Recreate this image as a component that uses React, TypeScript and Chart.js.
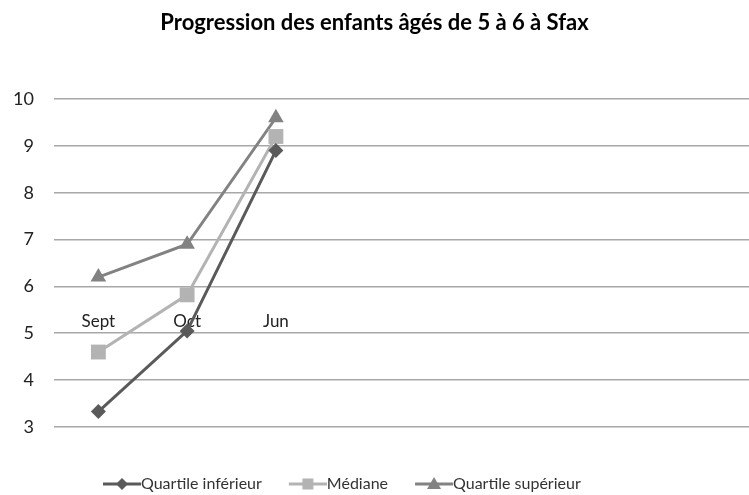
import React, { useEffect, useRef } from 'react';
import { Chart, registerables } from 'chart.js';
Chart.register(...registerables);

const categories = ['Sept', 'Oct', 'Jun'];
const quartileInf = [3.33, 5.05, 8.9];
const mediane = [4.6, 5.82, 9.2];
const quartileSup = [6.2, 6.9, 9.6];
const yTicks = [3, 4, 5, 6, 7, 8, 9, 10];
const seriesNames = ['Quartile inférieur', 'Médiane', 'Quartile supérieur'];
const seriesColors = ['#5a5a5a', '#b3b3b3', '#828282'];
const seriesStyles = ['rectRot', 'rect', 'triangle'];
const titleText = 'Progression des enfants âgés de 5 à 6 à Sfax';

const FONT = 'Lato, "Open Sans", sans-serif';
const LEGEND_PAD = 27;

function makeIcon(color: string, style: string): HTMLCanvasElement {
  const c = document.createElement('canvas');
  c.width = 46;
  c.height = 16;
  const ctx = c.getContext('2d')!;
  ctx.strokeStyle = color;
  ctx.fillStyle = color;
  ctx.lineWidth = 3;
  ctx.beginPath();
  ctx.moveTo(8, 8);
  ctx.lineTo(46, 8);
  ctx.stroke();
  const cx = 27, cy = 8;
  ctx.beginPath();
  if (style === 'rectRot') {
    ctx.moveTo(cx, cy - 6);
    ctx.lineTo(cx + 6, cy);
    ctx.lineTo(cx, cy + 6);
    ctx.lineTo(cx - 6, cy);
  } else if (style === 'rect') {
    ctx.rect(cx - 5.5, cy - 5.5, 11, 11);
  } else {
    ctx.moveTo(cx, cy - 7);
    ctx.lineTo(cx + 7, cy + 5);
    ctx.lineTo(cx - 7, cy + 5);
  }
  ctx.closePath();
  ctx.fill();
  return c;
}

function toPoints(values: number[]) {
  return values.map((v, i) => ({ x: i, y: v }));
}

const shiftLegend = {
  id: 'shiftLegend',
  afterLayout(chart: any) {
    const l = chart.legend;
    if (!l) return;
    const dx = 103 - LEGEND_PAD;
    const dy = 22;
    l.left += dx;
    l.right += dx;
    l.top += dy;
    l.bottom += dy;
  },
};

export default function App() {
  const ref = useRef<HTMLCanvasElement>(null);
  useEffect(() => {
    const allSeries = [quartileInf, mediane, quartileSup];
    const icons = seriesColors.map((c, i) => makeIcon(c, seriesStyles[i]));
    const chart = new Chart(ref.current!, {
      type: 'line',
      data: {
        datasets: allSeries.map((vals, i) => ({
          label: seriesNames[i],
          data: toPoints(vals),
          borderColor: seriesColors[i],
          backgroundColor: seriesColors[i],
          borderWidth: 3,
          pointStyle: seriesStyles[i] as any,
          pointRadius: i === 0 ? 7.5 : i === 1 ? 10.5 : 9,
          pointBorderWidth: 0,
          tension: 0,
        })),
      },
      plugins: [shiftLegend],
      options: {
        animation: false,
        responsive: false,
        maintainAspectRatio: false,
        layout: { autoPadding: false, padding: { left: 0, right: 0, top: 0, bottom: 15 } },
        plugins: {
          tooltip: { enabled: false },
          title: {
            display: true,
            text: titleText,
            color: '#000',
            font: { family: FONT, size: 22, weight: 'bold' },
            padding: { top: 10, bottom: 62.6 },
          },
          legend: {
            position: 'bottom',
            align: 'start',
            labels: {
              usePointStyle: true,
              pointStyleWidth: 30,
              padding: LEGEND_PAD,
              color: '#333',
              font: { family: FONT, size: 16 },
              generateLabels: () =>
                seriesNames.map((n, i) => ({
                  text: n,
                  pointStyle: icons[i] as any,
                  fillStyle: seriesColors[i],
                  strokeStyle: seriesColors[i],
                  lineWidth: 0,
                  hidden: false,
                  datasetIndex: i,
                  fontColor: '#333',
                })),
            },
          },
        },
        scales: {
          x: {
            type: 'linear',
            position: { y: 6 } as any,
            min: -0.5,
            max: 7.33,
            afterBuildTicks: (s: any) => {
              s.ticks = categories.map((_, i) => ({ value: i }));
            },
            ticks: {
              autoSkip: false,
              maxRotation: 0,
              padding: 25,
              color: '#222',
              font: { family: FONT, size: 17 },
              callback: (v: any) => categories[v] ?? '',
            },
            grid: { display: false, drawTicks: false },
            border: { display: false },
          },
          y: {
            min: 3,
            max: 10,
            afterBuildTicks: (s: any) => {
              s.ticks = yTicks.map((v) => ({ value: v }));
            },
            afterFit: (s: any) => {
              s.width = 54;
            },
            ticks: {
              padding: 20,
              color: '#222',
              font: { family: FONT, size: 18 },
            },
            grid: { color: '#a8a8a8', lineWidth: 1.6, drawTicks: false },
            border: { display: false },
          },
        },
      },
    });
    return () => chart.destroy();
  }, []);
  return (
    <div style={{ position: 'fixed', left: 0, top: 0, width: 749, height: 495, background: '#fff' }}>
      <canvas ref={ref} width={749} height={495} style={{ width: 749, height: 495 }} />
    </div>
  );
}
